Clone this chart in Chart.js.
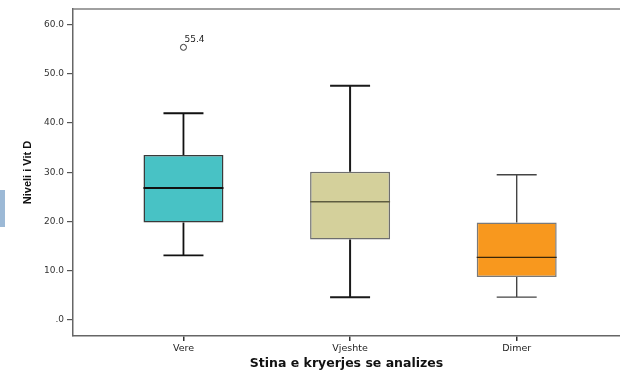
<!DOCTYPE html>
<html>
<head>
<meta charset="utf-8">
<script src="https://cdn.jsdelivr.net/npm/chart.js@4/dist/chart.umd.min.js"></script>
<style>
  body { margin: 0; background: #fff; }
  #wrap { position: relative; width: 620px; height: 373px; }
  #tab { position: absolute; left: 0; top: 190px; width: 5px; height: 37px; background: #9cb9d6; }
</style>
</head>
<body>
<div id="wrap">
  <canvas id="boxChart" width="620" height="373"></canvas>
  <div id="tab"></div>
</div>
<script>
/* data */

let categories = ["Vere", "Vjeshte", "Dimer"];
let whiskerLow  = [13.1, 4.6, 4.6];
let q1Values    = [19.8, 16.3, 8.7];
let medians     = [26.8, 24.0, 12.7];
let q3Values    = [33.5, 30.1, 19.8];
let whiskerHigh = [42.0, 47.6, 29.5];
let outliers    = [[55.4], [], []];
let yTicks      = [0, 10, 20, 30, 40, 50, 60];

/* styles */

let boxFill     = ["#48c2c5", "#d4d09b", "#f8981e"];
let boxBorder   = ["#3a3a3a", "#6e6e6e", "#7a7a7a"];
let whiskColor  = ["#111111", "#1a1a1a", "#444444"];
let whiskWidth  = [1.8, 2, 1.4];
let medColor    = ["#111111", "#5e5c40", "#3a2608"];
let medWidth    = [2.2, 1.3, 1.2];
const halfBox = 0.24;
const halfCap = 0.12;

function whiskerPoints(i)
{
    let x = i + 1;
    return [
        {x: x, y: q3Values[i]}, {x: x, y: whiskerHigh[i]}, {x: x, y: null},
        {x: x - halfCap, y: whiskerHigh[i]}, {x: x + halfCap, y: whiskerHigh[i]}, {x: x, y: null},
        {x: x, y: q1Values[i]}, {x: x, y: whiskerLow[i]}, {x: x, y: null},
        {x: x - halfCap, y: whiskerLow[i]}, {x: x + halfCap, y: whiskerLow[i]}
    ];
}

let datasets = [
    {
        type: "bar",
        label: "box",
        data: categories.map((c, i) => ({x: i + 1, y: [q1Values[i], q3Values[i]]})),
        backgroundColor: boxFill,
        borderColor: boxBorder,
        borderWidth: 1.5,
        borderSkipped: false,
        barPercentage: 0.6,
        categoryPercentage: 0.8,
        order: 3
    }
];

categories.forEach((c, i) => {
    datasets.push({
        type: "line",
        label: "whisker " + c,
        data: whiskerPoints(i),
        borderColor: whiskColor[i],
        borderWidth: whiskWidth[i],
        pointRadius: 0,
        spanGaps: false,
        order: 2
    });
    datasets.push({
        type: "line",
        label: "median " + c,
        data: [{x: i + 1 - halfBox, y: medians[i]}, {x: i + 1 + halfBox, y: medians[i]}],
        borderColor: medColor[i],
        borderWidth: medWidth[i],
        pointRadius: 0,
        order: 1
    });
});

let outlierPoints = [];
outliers.forEach((list, i) => list.forEach(v => outlierPoints.push({x: i + 1, y: v})));

datasets.push({
    type: "scatter",
    label: "outliers",
    data: outlierPoints,
    pointStyle: "circle",
    pointRadius: 3,
    backgroundColor: "#ffffff",
    borderColor: "#333333",
    borderWidth: 1,
    order: 0
});

/* frame line on top and the outlier labels */

const extras = {
    id: "extras",
    afterDatasetsDraw(chart)
    {
        const ctx = chart.ctx;
        const a = chart.chartArea;
        ctx.save();
        ctx.strokeStyle = "#808080";
        ctx.lineWidth = 1.5;
        ctx.beginPath();
        ctx.moveTo(a.left, a.top);
        ctx.lineTo(chart.width, a.top);
        ctx.stroke();

        const meta = chart.getDatasetMeta(chart.data.datasets.length - 1);
        ctx.fillStyle = "#222";
        ctx.font = "9px 'DejaVu Sans', Arial, sans-serif";
        ctx.textAlign = "left";
        ctx.textBaseline = "middle";
        meta.data.forEach((pt, k) => {
            ctx.fillText(outlierPoints[k].y.toFixed(1), pt.x + 1, pt.y - 8);
        });
        ctx.restore();
    }
};

new Chart(document.getElementById("boxChart"), {
    type: "bar",
    data: { datasets: datasets },
    plugins: [extras],
    options: {
        responsive: false,
        animation: false,
        layout: { autoPadding: false, padding: { top: 9, right: 0, left: 0, bottom: 0 } },
        plugins: {
            legend: { display: false },
            tooltip: { enabled: false }
        },
        scales: {
            x: {
                type: "linear",
                min: 0.337,
                max: 3.62,
                offset: false,
                afterFit: s => {
                    s.height = 37;
                    s.paddingLeft = 0;
                    s.paddingRight = 0;
                },
                afterBuildTicks: axis => {
                    axis.ticks = categories.map((c, i) => ({value: i + 1}));
                },
                ticks: {
                    autoSkip: false,
                    maxRotation: 0,
                    padding: 2,
                    color: "#222",
                    font: { family: "'DejaVu Sans', Arial, sans-serif", size: 9.5 },
                    callback: v => categories[v - 1]
                },
                grid: {
                    offset: false,
                    drawOnChartArea: false,
                    drawTicks: true,
                    tickLength: 5,
                    color: "#333",
                    lineWidth: 1.5
                },
                border: { display: true, color: "#666", width: 1.5 },
                title: {
                    display: true,
                    text: "Stina e kryerjes se analizes",
                    color: "#111",
                    font: { family: "'DejaVu Sans', Arial, sans-serif", size: 12.5, weight: "bold" },
                    padding: { top: 0, bottom: 2 }
                }
            },
            y: {
                min: -3.3,
                max: 63.2,
                afterFit: s => { s.width = 73; },
                afterBuildTicks: axis => {
                    axis.ticks = yTicks.map(v => ({value: v}));
                },
                ticks: {
                    padding: 3,
                    color: "#333",
                    font: { family: "'DejaVu Sans', Arial, sans-serif", size: 9 },
                    callback: v => v === 0 ? ".0" : v.toFixed(1)
                },
                grid: {
                    drawOnChartArea: false,
                    drawTicks: true,
                    tickLength: 6,
                    color: "#555",
                    lineWidth: 1.2
                },
                border: { display: true, color: "#666", width: 1.5 },
                title: {
                    display: true,
                    text: "Niveli i Vit D",
                    color: "#111",
                    font: { family: "Arial, 'Liberation Sans', sans-serif", size: 11, weight: "bold" },
                    padding: { top: 21, bottom: 0 }
                }
            }
        }
    }
});
</script>
</body>
</html>
